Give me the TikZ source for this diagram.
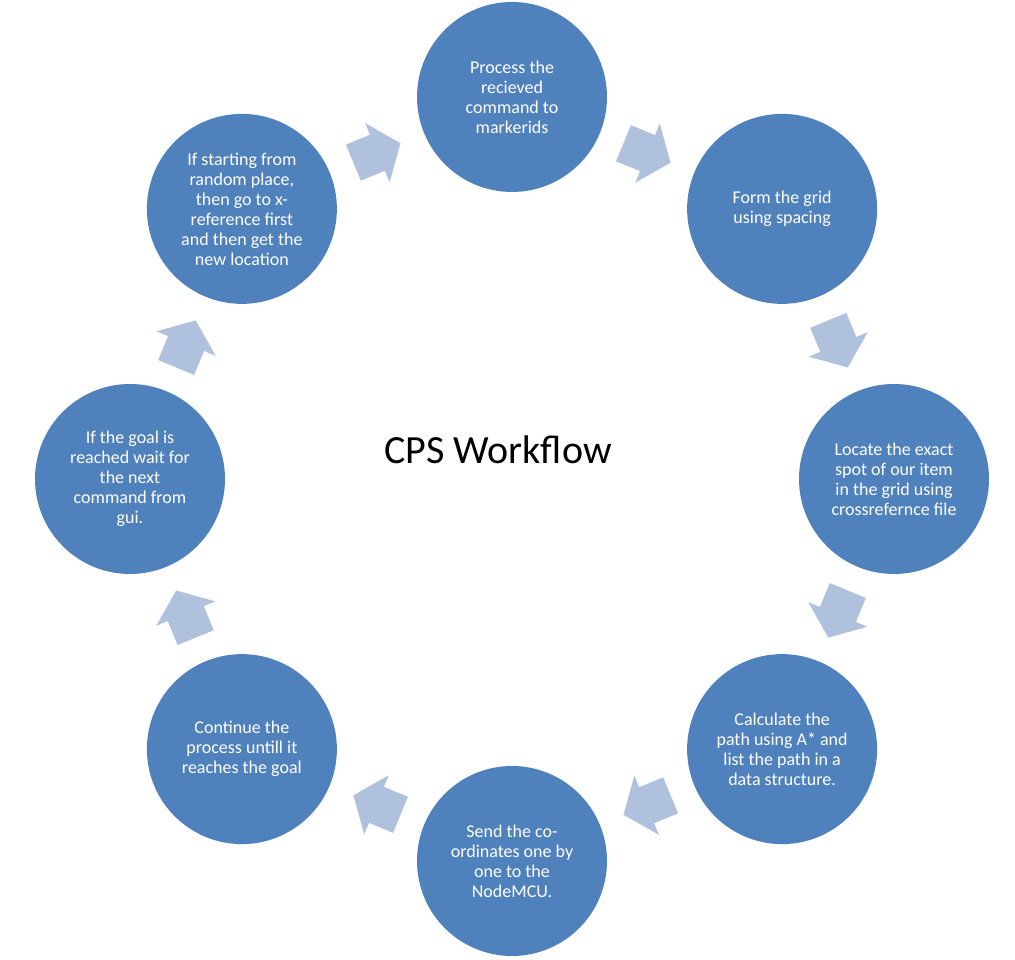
\documentclass[tikz,border=0pt]{standalone}
\usepackage{fontspec}
\setmainfont{Carlito}
\usetikzlibrary{calc}
\definecolor{circblue}{HTML}{4F81BD}
\definecolor{arrblue}{HTML}{B0C1DE}
\begin{document}
\begin{tikzpicture}[x=1pt,y=1pt,
  stepcirc/.style={circle, fill=circblue, minimum size=190pt, inner sep=0pt,
    text=white, align=center, font=\fontsize{18}{20}\selectfont},
  blockarrow/.style={fill=arrblue},
  titletext/.style={font=\fontsize{40}{48}\selectfont, text=black, anchor=base}]
\useasboundingbox (0,0) rectangle (1015,959);
\coordinate (C) at (512,480);
\node[stepcirc] (c1) at ($(C)+(90:382)$) {Process the\\recieved\\command to\\markerids};
\node[stepcirc] (c2) at ($(C)+(45:382)$) {Form the grid\\using spacing};
\node[stepcirc] (c3) at ($(C)+(0:382)$) {Locate the exact\\spot of our item\\in the grid using\\crossrefernce file};
\node[stepcirc] (c4) at ($(C)+(-45:382)$) {Calculate the\\path using A* and\\list the path in a\\data structure.};
\node[stepcirc] (c5) at ($(C)+(-90:382)$) {Send the co-\\ordinates one by\\one to the\\NodeMCU.};
\node[stepcirc] (c6) at ($(C)+(-135:382)$) {Continue the\\process untill it\\reaches the goal};
\node[stepcirc] (c7) at ($(C)+(180:382)$) {If the goal is\\reached wait for\\the next\\command from\\gui.};
\node[stepcirc] (c8) at ($(C)+(135:382)$) {If starting from\\random place,\\then go to x-\\reference first\\and then get the\\new location};
\node[titletext] (title) at (498,495) {CPS Workflow};
\foreach \a/\b/\t in {1/2/67.5, 2/3/22.5, 3/4/-22.5, 4/5/-67.5, 5/6/-112.5, 6/7/-157.5, 7/8/157.5, 8/1/112.5}{
  \fill[blockarrow, shift={($(c\a)!0.5!(c\b)$)}, rotate=\t-90]
    (-25.5,-19.5) -- (0.5,-19.5) -- (0.5,-32) -- (25.5,0) -- (0.5,32) -- (0.5,19.5) -- (-25.5,19.5) -- cycle;
}
\end{tikzpicture}
\end{document}
